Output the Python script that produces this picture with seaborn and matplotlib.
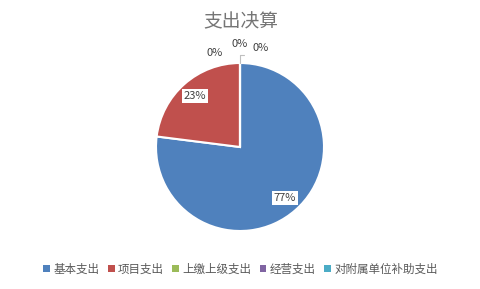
import matplotlib
matplotlib.use("Agg")
import matplotlib.pyplot as plt
import seaborn as sns
from matplotlib.patches import Patch

categories = ["基本支出", "项目支出", "上缴上级支出", "经营支出", "对附属单位补助支出"]
values = [77, 23, 0, 0, 0]
colors = ["#4F81BD", "#C0504D", "#9BBB59", "#8064A2", "#4BACC6"]

sns.set_theme(style="white")
plt.rcParams['font.family'] = ['Noto Sans CJK SC', 'DejaVu Sans']

fig = plt.figure(figsize=(4.81, 2.89), dpi=100)
fig.patch.set_facecolor("white")
ax = fig.add_axes([156/481, (289-231)/289, 168/481, 168/289])

palette = sns.color_palette(colors)

def fmt(p):
    return f"{p:.0f}%" if p > 0.5 else ""

wedges, texts, autotexts = ax.pie(
    values, colors=palette, startangle=90, counterclock=False,
    autopct=fmt, pctdistance=0.81,
    wedgeprops=dict(edgecolor="white", linewidth=1.5),
    textprops=dict(fontsize=8, color="#404040"))
for t in autotexts:
    if t.get_text():
        t.set_bbox(dict(facecolor="white", edgecolor="none", pad=1.5))
ax.set_xlim(-1, 1)
ax.set_ylim(-1, 1)
ax.set_aspect("equal")
ax.axis("off")

# labels for zero-valued slices (placed outside, near 12 o'clock)
zero_pos = [(-0.30, 1.06), (0.0, 1.17), (0.25, 1.12)]
zi = 0
for i, v in enumerate(values):
    if v == 0 and zi < len(zero_pos):
        x, y = zero_pos[zi]
        ax.text(x, y, "0%", ha="center", va="bottom", fontsize=8,
                color="#404040", clip_on=False)
        zi += 1
ax.plot([0, 0], [1.0, 1.09], color="#BFBFBF", lw=0.8, clip_on=False)
ax.plot([0, 0.05], [1.09, 1.09], color="#BFBFBF", lw=0.8, clip_on=False)

fig.text(0.5, 1 - 22/289, "支出决算", ha="center", va="center",
         fontsize=13.5, color="#757575")

handles = [Patch(facecolor=c, edgecolor="none") for c in palette]
leg = fig.legend(handles, categories, loc="center", ncol=5,
                 bbox_to_anchor=(0.5, 1 - 269/289), frameon=False,
                 fontsize=8.3, handlelength=0.6, handleheight=0.6,
                 handletextpad=0.3, columnspacing=0.7,
                 labelcolor="#595959")

fig.savefig("out.png", dpi=100, facecolor="white")
